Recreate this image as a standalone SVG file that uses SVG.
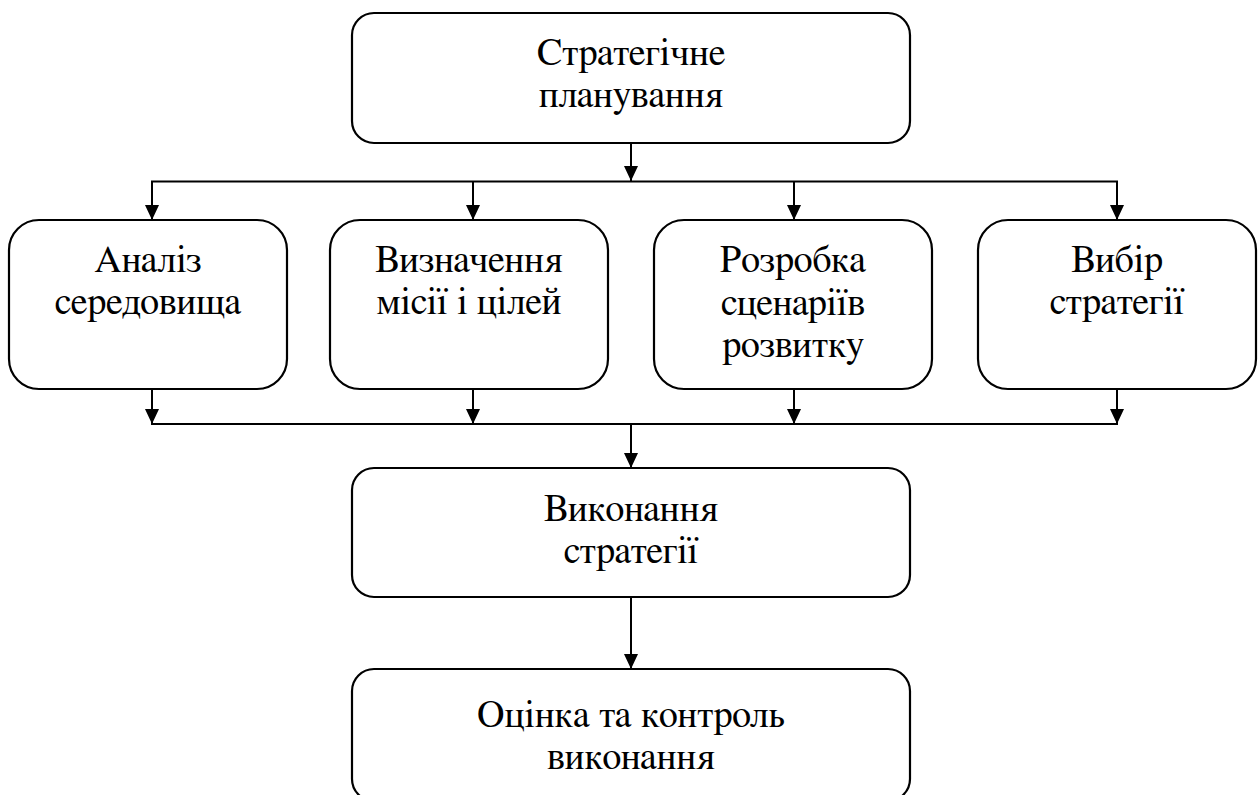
<svg xmlns="http://www.w3.org/2000/svg" width="1260" height="795" viewBox="0 0 1260 795">
<style>
.box{fill:#fff;stroke:#000;stroke-width:2.2}
.t{font-family:FreeSerif,"Liberation Serif","Times New Roman",serif;font-size:38px;fill:#000;text-anchor:middle}
.c{fill:none;stroke:#000;stroke-width:2}
</style>
<defs>
<marker id="ah" markerUnits="userSpaceOnUse" markerWidth="16" markerHeight="16" viewBox="0 0 16 16" refX="15" refY="8" orient="auto">
<path d="M0,1 L15,8 L0,15 Z" fill="#000"/>
</marker>
</defs>
<rect width="1260" height="795" fill="#fff"/>
<g id="connectors">
<line class="c" x1="631" y1="143" x2="631" y2="181" marker-end="url(#ah)"/>
<line class="c" x1="151" y1="181.5" x2="1118" y2="181.5"/>
<line class="c" x1="152" y1="181" x2="152" y2="220" marker-end="url(#ah)"/>
<line class="c" x1="473" y1="181" x2="473" y2="220" marker-end="url(#ah)"/>
<line class="c" x1="794" y1="181" x2="794" y2="220" marker-end="url(#ah)"/>
<line class="c" x1="1117" y1="181" x2="1117" y2="220" marker-end="url(#ah)"/>
<line class="c" x1="152" y1="389" x2="152" y2="424" marker-end="url(#ah)"/>
<line class="c" x1="473" y1="389" x2="473" y2="424" marker-end="url(#ah)"/>
<line class="c" x1="794" y1="389" x2="794" y2="424" marker-end="url(#ah)"/>
<line class="c" x1="1117" y1="389" x2="1117" y2="424" marker-end="url(#ah)"/>
<line class="c" x1="151" y1="424" x2="1118" y2="424"/>
<line class="c" x1="631" y1="424" x2="631" y2="468" marker-end="url(#ah)"/>
<line class="c" x1="631" y1="597" x2="631" y2="669" marker-end="url(#ah)"/>
</g>
<g id="n-strategic">
<rect class="box" x="352" y="13" width="558" height="130" rx="22"/>
<text class="t" x="631" y="65">Стратегічне</text>
<text class="t" x="631" y="107">планування</text>
</g>
<g id="n-analysis">
<rect class="box" x="9" y="220" width="278" height="169" rx="30"/>
<text class="t" x="148" y="272">Аналіз</text>
<text class="t" x="148" y="314">середовища</text>
</g>
<g id="n-mission">
<rect class="box" x="330" y="220" width="278" height="169" rx="30"/>
<text class="t" x="469" y="272">Визначення</text>
<text class="t" x="469" y="314">місії і цілей</text>
</g>
<g id="n-scenarios">
<rect class="box" x="654" y="220" width="278" height="169" rx="30"/>
<text class="t" x="793" y="272">Розробка</text>
<text class="t" x="793" y="315">сценаріїв</text>
<text class="t" x="793" y="357">розвитку</text>
</g>
<g id="n-choice">
<rect class="box" x="978" y="220" width="278" height="169" rx="30"/>
<text class="t" x="1117" y="272">Вибір</text>
<text class="t" x="1117" y="314">стратегії</text>
</g>
<g id="n-execution">
<rect class="box" x="352" y="468" width="558" height="129" rx="22"/>
<text class="t" x="631" y="521">Виконання</text>
<text class="t" x="631" y="563">стратегії</text>
</g>
<g id="n-control">
<rect class="box" x="352" y="669" width="558" height="132" rx="22"/>
<text class="t" x="631" y="727">Оцінка та контроль</text>
<text class="t" x="631" y="769">виконання</text>
</g>
</svg>
